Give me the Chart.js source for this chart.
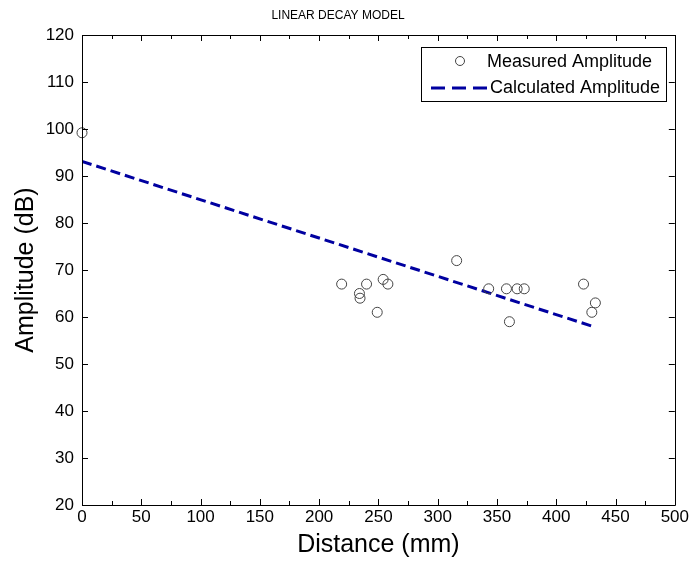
<!DOCTYPE html>
<html>
<head>
<meta charset="utf-8">
<script src="https://cdn.jsdelivr.net/npm/chart.js@4"></script>
<style>
html,body{margin:0;padding:0;background:#fff;}
#wrap{width:691px;height:563px;position:relative;}
</style>
</head>
<body>
<div id="wrap"><canvas id="c" width="691" height="563"></canvas></div>
<script>
const distance = [0, 219, 234, 234.5, 240, 249, 254, 258, 316, 343, 358, 360.5, 367, 373, 423, 430, 433];
const amplitude = [99.2, 67, 65, 64, 67, 61, 68, 67, 72, 66, 66, 59, 66, 66, 67, 61, 63];
const fitDistance = [0, 432];
const fitAmplitude = [93.1, 57.9];
const xTicks = [0, 50, 100, 150, 200, 250, 300, 350, 400, 450, 500];
const yTicks = [20, 30, 40, 50, 60, 70, 80, 90, 100, 110, 120];
const seriesNames = ['Measured Amplitude', 'Calculated Amplitude'];

const FONT = 'Liberation Sans, Arial, sans-serif';

const measured = distance.map((d, i) => ({x: d, y: amplitude[i]}));
const fitted = fitDistance.map((d, i) => ({x: d, y: fitAmplitude[i]}));

const boxPlugin = {
  id: 'matlabBox',
  afterDatasetsDraw(chart) {
    const ctx = chart.ctx, a = chart.chartArea;
    const xs = chart.scales.x, ys = chart.scales.y;
    ctx.save();
    ctx.strokeStyle = '#000';
    ctx.lineWidth = 1;
    ctx.beginPath();
    ctx.rect(Math.round(a.left) + 0.5, Math.round(a.top) + 0.5, Math.round(a.right - a.left), Math.round(a.bottom - a.top));
    ctx.stroke();
    // major and minor ticks (inward)
    ctx.beginPath();
    for (let v = 0; v <= 500; v += 25) {
      const px = Math.round(xs.getPixelForValue(v)) + 0.5;
      const len = (v % 50 === 0) ? 6 : 4;
      ctx.moveTo(px, a.bottom); ctx.lineTo(px, a.bottom - len);
      ctx.moveTo(px, a.top); ctx.lineTo(px, a.top + len);
    }
    yTicks.forEach(v => {
      const py = Math.round(ys.getPixelForValue(v)) + 0.5;
      ctx.moveTo(a.left, py); ctx.lineTo(a.left + 6, py);
      ctx.moveTo(a.right, py); ctx.lineTo(a.right - 6, py);
    });
    ctx.stroke();
    // legend
    const lx = 421.5, ly = 47.5, lw = 245, lh = 54;
    ctx.fillStyle = '#fff';
    ctx.fillRect(lx, ly, lw, lh);
    ctx.strokeRect(lx, ly, lw, lh);
    ctx.fillStyle = '#000';
    ctx.font = '18px ' + FONT;
    ctx.textBaseline = 'middle';
    ctx.textAlign = 'left';
    ctx.beginPath();
    ctx.arc(460, 61, 4.5, 0, Math.PI * 2);
    ctx.strokeStyle = '#444';
    ctx.stroke();
    ctx.fillText(seriesNames[0], 487, 62);
    ctx.strokeStyle = '#0000a0';
    ctx.lineWidth = 3;
    ctx.setLineDash([14, 7]);
    ctx.beginPath();
    ctx.moveTo(431, 88); ctx.lineTo(490, 88);
    ctx.stroke();
    ctx.setLineDash([]);
    ctx.fillText(seriesNames[1], 490, 88);
    ctx.restore();
  }
};

new Chart(document.getElementById('c'), {
  type: 'scatter',
  data: {
    datasets: [
      {
        label: seriesNames[0],
        data: measured,
        showLine: false,
        clip: false,
        pointStyle: 'circle',
        pointRadius: 5,
        pointBorderWidth: 1,
        pointBorderColor: '#444',
        pointBackgroundColor: 'rgba(0,0,0,0)',
        order: 1
      },
      {
        label: seriesNames[1],
        data: fitted,
        showLine: true,
        pointRadius: 0,
        borderColor: '#0000a0',
        borderWidth: 3,
        borderDash: [10, 5],
        order: 2
      }
    ]
  },
  plugins: [boxPlugin],
  options: {
    responsive: false,
    animation: false,
    layout: {padding: {left: 0, right: 15, top: 0, bottom: 0}},
    plugins: {
      legend: {display: false},
      tooltip: {enabled: false},
      title: {
        display: true,
        text: 'LINEAR DECAY MODEL',
        color: '#000',
        font: {family: FONT, size: 12, weight: 'normal'},
        padding: {top: 8, bottom: 12.6}
      }
    },
    scales: {
      x: {
        type: 'linear',
        min: 0, max: 500,
        afterBuildTicks: s => { s.ticks = xTicks.map(v => ({value: v})); },
        afterFit: s => { s.height = 58; },
        grid: {display: false, drawTicks: false},
        border: {display: false},
        ticks: {color: '#000', font: {family: FONT, size: 17}, padding: 2, maxRotation: 0, autoSkip: false},
        title: {display: true, text: 'Distance (mm)', color: '#000', font: {family: FONT, size: 25}, padding: {top: 2, bottom: 3}}
      },
      y: {
        type: 'linear',
        min: 20, max: 120,
        afterBuildTicks: s => { s.ticks = yTicks.map(v => ({value: v})); },
        afterFit: s => { s.width = 82; },
        grid: {display: false, drawTicks: false},
        border: {display: false},
        ticks: {color: '#000', font: {family: FONT, size: 17}, padding: 8, autoSkip: false},
        title: {display: true, text: 'Amplitude (dB)', color: '#000', font: {family: FONT, size: 25}, padding: {top: 11, bottom: 6}}
      }
    }
  }
});
</script>
</body>
</html>
